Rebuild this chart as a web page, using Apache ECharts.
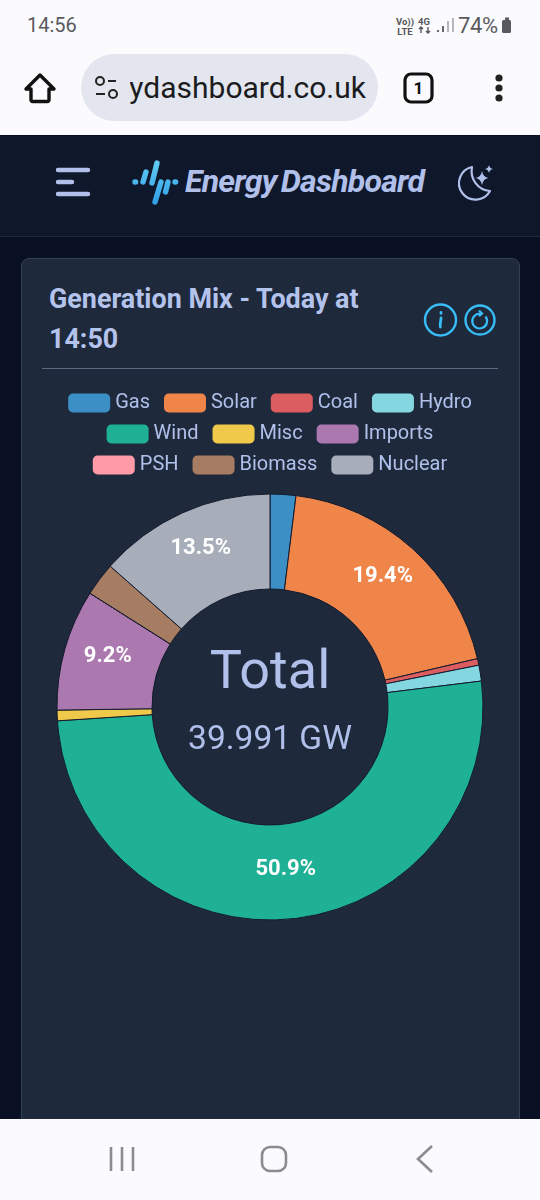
<!DOCTYPE html>
<html>
<head>
<meta charset="utf-8">
<title>Energy Dashboard</title>
<script src="https://cdn.jsdelivr.net/npm/echarts@6/dist/echarts.min.js"></script>
<style>
html, body { margin: 0; padding: 0; width: 540px; height: 1200px; overflow: hidden; background: #0a1024; font-family: Roboto, sans-serif; }
.abs { position: absolute; white-space: nowrap; }
#status { left: 0; top: 0; width: 540px; height: 135px; background: #fbfbfe; }
#header { left: 0; top: 136px; width: 540px; height: 100px; background: #0f172a; border-bottom: 1px solid #1e293b; }
#card { left: 21px; top: 258px; width: 499px; height: 870px; background: #1e293b; border: 1px solid #334155; border-radius: 8px; box-sizing: border-box; }
#nav { left: 0; top: 1119px; width: 540px; height: 81px; background: #fbfbfe; z-index: 3; }
#pill { left: 81px; top: 54px; width: 297px; height: 67px; background: #e3e6ef; border-radius: 34px; }
.title { left: 49px; color: #b4c3ec; font-size: 26.9px; font-weight: 700; line-height: 40px; }
#rule { left: 42px; top: 368px; width: 456px; height: 1px; background: #5d6a80; }
#chart { position: absolute; left: 0; top: 0; width: 540px; height: 1200px; z-index: 2; }
svg { position: absolute; overflow: visible; }
</style>
</head>
<body>
<div class="abs" id="status"></div>
<div class="abs" style="left:27px;top:13px;font-size:20px;color:#5a5a5e">14:56</div>
<div class="abs" style="left:396px;top:17px;font-size:9.5px;line-height:9.5px;font-weight:700;color:#55555a;text-align:center">Vo))<br>LTE</div>
<div class="abs" style="left:418px;top:17px;font-size:9.5px;line-height:9.5px;font-weight:700;color:#55555a;text-align:center">4G</div>
<div class="abs" style="left:458px;top:13px;font-size:22px;color:#5a5a5e;letter-spacing:-0.4px">74%</div>
<svg style="left:0;top:0" width="540" height="135">
  <path d="M421 27v6M419 29l2-2 2 2M428 33v-6M426 31l2 2 2-2" fill="none" stroke="#55555a" stroke-width="1.4"/>
  <g stroke="#55555a" stroke-width="1.8"><path d="M438 32v-2M443 32v-6" /><path d="M448 32v-11M453 32v-14" stroke="#b0b0b4"/></g>
  <rect x="502" y="20" width="9" height="13" rx="1.5" fill="#5a5a5e"/><rect x="505" y="17.5" width="4" height="2.5" fill="#5a5a5e"/>
  <path d="M40 75 L26 89 H31 V100 a1.5 1.5 0 0 0 1.5 1.5 H47.5 a1.5 1.5 0 0 0 1.5-1.5 V89 H54 Z" fill="none" stroke="#111" stroke-width="3.4" stroke-linejoin="round"/>
  <rect x="405" y="74" width="27" height="28" rx="6" fill="none" stroke="#111" stroke-width="3.2"/>
  <circle cx="499" cy="78" r="3.6" fill="#222"/><circle cx="499" cy="88" r="3.6" fill="#222"/><circle cx="499" cy="98" r="3.6" fill="#222"/>
</svg>
<div class="abs" id="pill"></div>
<svg style="left:0;top:0" width="540" height="135">
  <circle cx="100" cy="81" r="4" fill="none" stroke="#222" stroke-width="2"/><path d="M108 81h8M96 94h9" stroke="#222" stroke-width="2"/>
  <circle cx="113" cy="94" r="4" fill="none" stroke="#222" stroke-width="2"/>
</svg>
<div class="abs" style="left:130px;top:54px;width:236px;height:67px;overflow:hidden"><div class="abs" style="right:0;top:16px;font-size:30px;line-height:36px;color:#1c1c20">ydashboard.co.uk</div></div>
<div class="abs" style="left:405px;top:75px;width:27px;text-align:center;font-size:17px;font-weight:700;line-height:27px;color:#111">1</div>

<div class="abs" id="header"></div>
<svg style="left:0;top:0" width="540" height="240">
  <defs><linearGradient id="lg" gradientUnits="userSpaceOnUse" x1="0" y1="160" x2="0" y2="205"><stop offset="0" stop-color="#62cdf2"/><stop offset="1" stop-color="#2f9fe6"/></linearGradient></defs>
  <g stroke="#b0c0ea" stroke-width="4.4" stroke-linecap="round"><path d="M58 170H88M58 182H72M58 194H88"/></g>
  <g stroke="url(#lg)" stroke-linecap="round" stroke-width="5.4" fill="none">
    <path d="M135 182l0.6 0"/><path d="M146 172l-3 10"/><path d="M157 163l-5 20"/>
    <path d="M161 182l-6 20"/><path d="M168 182l-2.5 10"/><path d="M175 182l0.6 0"/>
  </g>
  <path d="M472 167 A 16.5 16.5 0 1 0 490 191 A 20 20 0 0 1 472 167 Z" fill="none" stroke="#b0c0ea" stroke-width="2.2" stroke-linejoin="round"/>
  <path d="M482 171 q1 6 6.5 7 q-5.5 1 -6.5 7 q-1 -6 -6.5 -7 q5.5 -1 6.5 -7Z M489 165 q.6 3.4 4 4 q-3.4 .6 -4 4 q-.6 -3.4 -4 -4 q3.4 -.6 4 -4Z" fill="#b0c0ea"/>
</svg>
<div class="abs" style="left:185px;top:162px;font-size:32px;line-height:38px;font-style:italic;font-weight:700;color:#b0c0ea;letter-spacing:-0.75px;word-spacing:-3px">Energy Dashboard</div>

<div class="abs" id="card"></div>
<div class="abs title" style="top:279px">Generation Mix - Today at</div>
<div class="abs title" style="top:319px">14:50</div>
<div class="abs" id="rule"></div>
<svg style="left:0;top:0" width="540" height="400">
  <circle cx="440.5" cy="320" r="15.5" fill="none" stroke="#38bdf8" stroke-width="2.4"/>
  <circle cx="480" cy="320" r="14.5" fill="none" stroke="#38bdf8" stroke-width="2.4"/>
  <path d="M441 318c0 3.5-1.6 6.5-0.6 9M441 312.5v.8" fill="none" stroke="#38bdf8" stroke-width="2.8" stroke-linecap="round"/>
  <path d="M485.5 316.5a7.4 7.4 0 1 1-5-2.8M479 310.5l3 3-3 2.8" fill="none" stroke="#38bdf8" stroke-width="2.2"/>
</svg>

<div id="chart"></div>

<div class="abs" id="nav"></div>
<svg style="left:0;top:0;z-index:4" width="540" height="1200">
  <path d="M111 1147v24M122 1147v24M133 1147v24" stroke="#8c8c90" stroke-width="2.6"/>
  <rect x="262" y="1147" width="24" height="24" rx="8" fill="none" stroke="#8c8c90" stroke-width="2.6"/>
  <path d="M432 1146L418 1159L432 1172" fill="none" stroke="#8c8c90" stroke-width="2.6"/>
</svg>

<script>
var categories = ['Gas', 'Solar', 'Coal', 'Hydro', 'Wind', 'Misc', 'Imports', 'PSH', 'Biomass', 'Nuclear'];
var generationGW = [0.78, 7.76, 0.2, 0.48, 20.36, 0.32, 3.68, 0, 1.011, 5.4];
var palette = ['#3b8fc4', '#f0854a', '#dc5d5f', '#84d6e0', '#1fb196', '#f0c94a', '#ab78b0', '#ff9aa6', '#a67c62', '#a8aeb9'];
var legendRows = [
    ['Gas', 'Solar', 'Coal', 'Hydro'],
    ['Wind', 'Misc', 'Imports'],
    ['PSH', 'Biomass', 'Nuclear']
];
var legendTops = [393, 424, 455];

var totalGW = generationGW.reduce(function (a, b) { return a + b; }, 0);
var textColor = '#b0c0ea';

var myChart = echarts.init(document.getElementById('chart'), null, { renderer: 'canvas' });

var option = {
    animation: false,
    color: palette,
    backgroundColor: 'transparent',
    textStyle: { fontFamily: 'Roboto' },
    title: [
        {
            text: 'Total',
            left: 270, top: 647,
            padding: 0,
            textAlign: 'center',
            textStyle: { color: textColor, fontSize: 54, fontWeight: 400, fontFamily: 'Roboto' }
        },
        {
            text: totalGW.toFixed(3) + ' GW',
            left: 270, top: 724,
            padding: 0,
            textAlign: 'center',
            textStyle: { color: textColor, fontSize: 33.5, fontWeight: 400, fontFamily: 'Roboto' }
        }
    ],
    legend: legendRows.map(function (row, i) {
        return {
            data: row,
            left: 'center',
            top: legendTops[i],
            icon: 'roundRect',
            itemWidth: 42,
            itemHeight: 19,
            itemGap: 14,
            padding: 0,
            selectedMode: false,
            itemStyle: { borderWidth: 0 },
            textStyle: { color: textColor, fontSize: 20, fontFamily: 'Roboto' }
        };
    }),
    series: [
        {
            type: 'pie',
            center: [270, 707],
            radius: [118, 213],
            startAngle: 90,
            clockwise: true,
            silent: true,
            data: categories.map(function (name, i) {
                return { name: name, value: generationGW[i] };
            }),
            itemStyle: { borderColor: '#141b2c', borderWidth: 1 },
            label: {
                position: 'inside',
                color: '#fff',
                fontSize: 22,
                fontWeight: 700,
                fontFamily: 'Roboto',
                formatter: function (p) {
                    return p.percent > 5 ? (p.value / totalGW * 100).toFixed(1) + '%' : '';
                }
            },
            labelLayout: { dy: -5 },
            labelLine: { show: false }
        }
    ]
};

myChart.setOption(option);
</script>
</body>
</html>
